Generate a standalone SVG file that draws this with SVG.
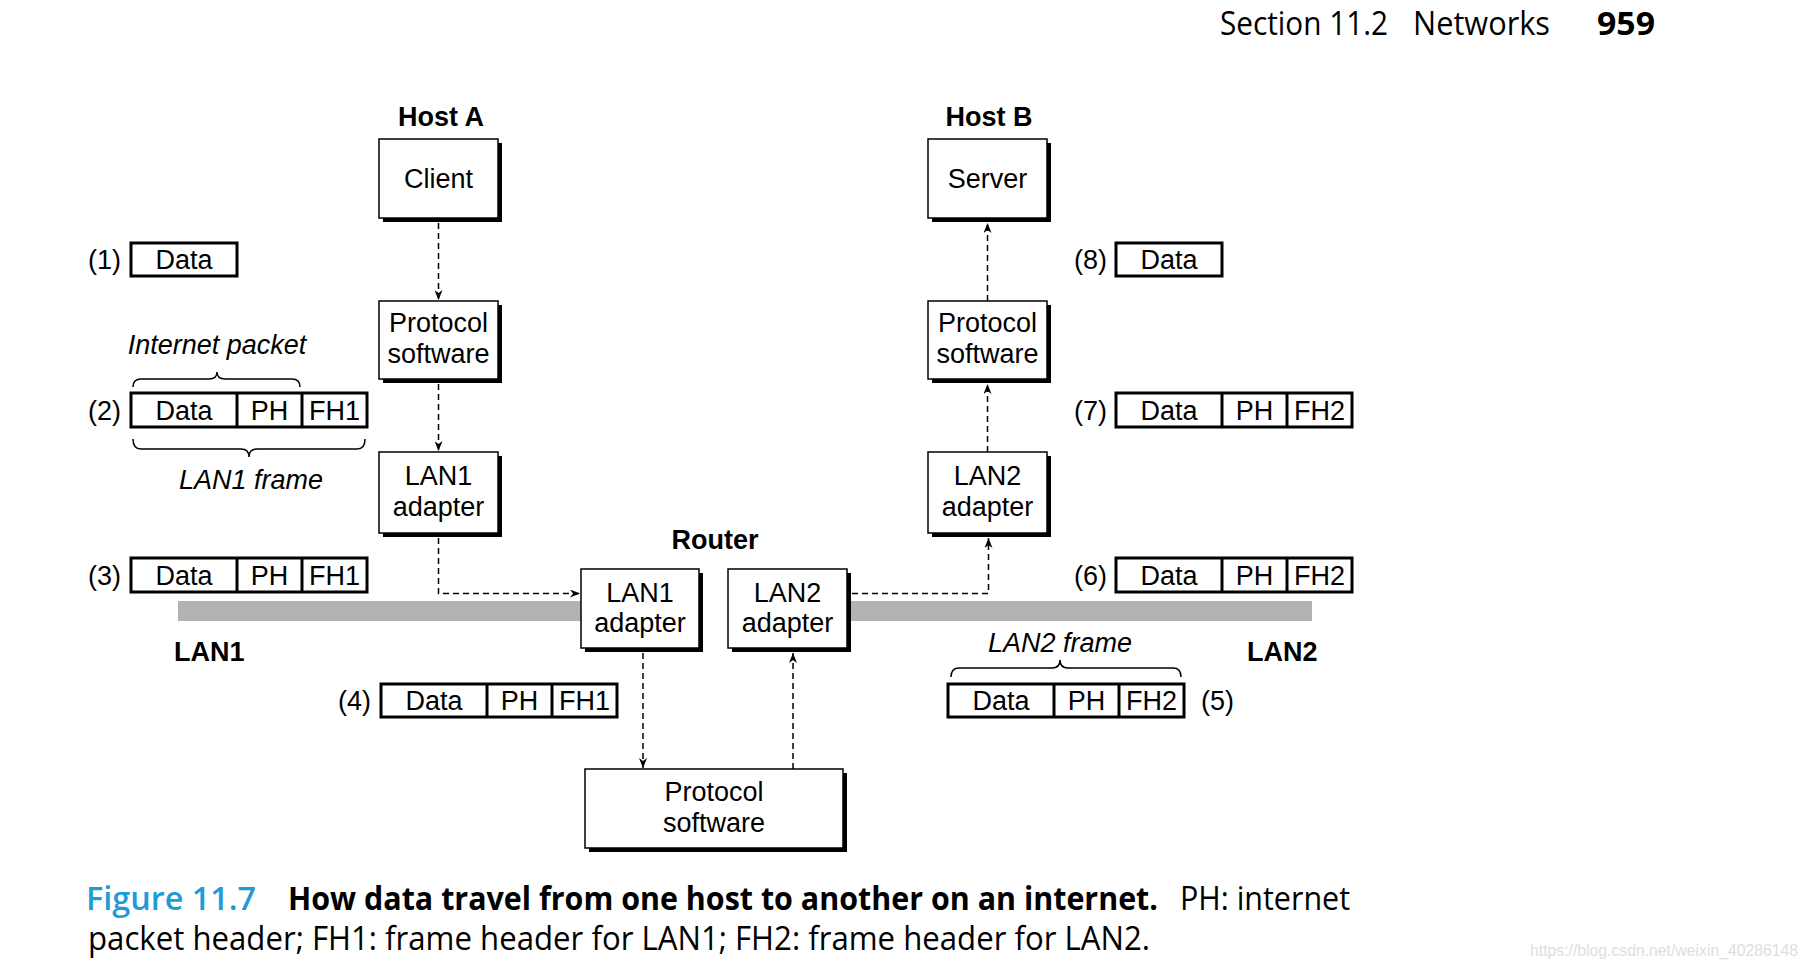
<svg xmlns="http://www.w3.org/2000/svg" width="1816" height="970" viewBox="0 0 1816 970">
<defs>
<style>
.box{fill:#fff;stroke:#000;stroke-width:1.5}
.sh{fill:#000}
.pkt{fill:#fff;stroke:#000;stroke-width:3}
.div{stroke:#000;stroke-width:3}
.t{font-family:"Liberation Sans",Arial,Helvetica,sans-serif;font-size:27px;fill:#000}
.c{text-anchor:middle}
.b{font-weight:bold}
.i{font-style:italic}
.dash{fill:none;stroke:#000;stroke-width:1.5;stroke-dasharray:6 4}
.brace{fill:none;stroke:#000;stroke-width:1.5}
.bar{fill:#b3b3b3}
.hdr{font-family:"Open Sans","Noto Sans",sans-serif;font-size:32px;fill:#000}
.cap{font-family:"Open Sans","Noto Sans",sans-serif;font-size:32px;fill:#000}
</style>
<marker id="arr" viewBox="0 0 10 8" refX="10" refY="4" markerWidth="10" markerHeight="8" markerUnits="userSpaceOnUse" orient="auto">
<path d="M0,0 L10,4 L0,8 L3,4 z" fill="#000"/>
</marker>
</defs>
<rect width="1816" height="970" fill="#fff"/>

<!-- header -->
<g id="header">
<text class="hdr" x="1220" y="35" textLength="168" lengthAdjust="spacingAndGlyphs">Section 11.2</text>
<text class="hdr" x="1413" y="35" textLength="137" lengthAdjust="spacingAndGlyphs">Networks</text>
<text class="hdr" x="1597" y="35" font-weight="bold" textLength="58" lengthAdjust="spacingAndGlyphs">959</text>
</g>

<!-- LAN bars -->
<g id="lan-bars">
<rect class="bar" x="178" y="601" width="403" height="20"/>
<rect class="bar" x="850" y="601" width="462" height="20"/>
</g>

<!-- labels -->
<g id="labels">
<text class="t b c" x="441" y="126">Host A</text>
<text class="t b c" x="989" y="126">Host B</text>
<text class="t b c" x="715" y="549">Router</text>
<text class="t b" x="174" y="661">LAN1</text>
<text class="t b" x="1247" y="661">LAN2</text>
<text class="t i c" x="217" y="354">Internet packet</text>
<text class="t i c" x="251" y="489">LAN1 frame</text>
<text class="t i c" x="1060" y="652">LAN2 frame</text>
<path class="brace" d="M133,387 Q133,379 141,379 L209,379 Q217,379 217,372 Q217,379 225,379 L292,379 Q300,379 300,387"/>
<path class="brace" d="M133,439 Q133,449 141,449 L241,449 Q249,449 249,457 Q249,449 257,449 L357,449 Q365,449 365,439"/>
<path class="brace" d="M951,677 Q951,668 959,668 L1052,668 Q1060,668 1060,660 Q1060,668 1068,668 L1173,668 Q1181,668 1181,677"/>
</g>

<!-- Host A nodes -->
<g id="client">
<rect class="sh" x="383" y="143" width="119" height="79"/>
<rect class="box" x="379" y="139" width="119" height="79"/>
<text class="t c" x="438.5" y="188">Client</text>
</g>
<g id="protoA">
<rect class="sh" x="383" y="305" width="119" height="78"/>
<rect class="box" x="379" y="301" width="119" height="78"/>
<text class="t c" x="438.5" y="332">Protocol</text>
<text class="t c" x="438.5" y="363">software</text>
</g>
<g id="lan1adA">
<rect class="sh" x="383" y="456" width="119" height="81"/>
<rect class="box" x="379" y="452" width="119" height="81"/>
<text class="t c" x="438.5" y="485">LAN1</text>
<text class="t c" x="438.5" y="516">adapter</text>
</g>

<!-- Host B nodes -->
<g id="server">
<rect class="sh" x="932" y="143" width="119" height="79"/>
<rect class="box" x="928" y="139" width="119" height="79"/>
<text class="t c" x="987.5" y="188">Server</text>
</g>
<g id="protoB">
<rect class="sh" x="932" y="305" width="119" height="78"/>
<rect class="box" x="928" y="301" width="119" height="78"/>
<text class="t c" x="987.5" y="332">Protocol</text>
<text class="t c" x="987.5" y="363">software</text>
</g>
<g id="lan2adB">
<rect class="sh" x="932" y="456" width="119" height="81"/>
<rect class="box" x="928" y="452" width="119" height="81"/>
<text class="t c" x="987.5" y="485">LAN2</text>
<text class="t c" x="987.5" y="516">adapter</text>
</g>

<!-- Router nodes -->
<g id="r-lan1">
<rect class="sh" x="585" y="573" width="118" height="79"/>
<rect class="box" x="581" y="569" width="118" height="79"/>
<text class="t c" x="640" y="602">LAN1</text>
<text class="t c" x="640" y="632">adapter</text>
</g>
<g id="r-lan2">
<rect class="sh" x="732" y="573" width="119" height="79"/>
<rect class="box" x="728" y="569" width="119" height="79"/>
<text class="t c" x="787.5" y="602">LAN2</text>
<text class="t c" x="787.5" y="632">adapter</text>
</g>
<g id="r-proto">
<rect class="sh" x="589" y="773" width="258" height="79"/>
<rect class="box" x="585" y="769" width="258" height="79"/>
<text class="t c" x="714" y="801">Protocol</text>
<text class="t c" x="714" y="832">software</text>
</g>

<!-- packets -->
<g id="pkt1">
<text class="t" x="88" y="269">(1)</text>
<rect class="pkt" x="131" y="243" width="106" height="33"/>
<text class="t c" x="184" y="269">Data</text>
</g>
<g id="pkt2">
<text class="t" x="88" y="420">(2)</text>
<rect class="pkt" x="131" y="393" width="236" height="34"/>
<line class="div" x1="237" y1="393" x2="237" y2="427"/>
<line class="div" x1="302" y1="393" x2="302" y2="427"/>
<text class="t c" x="184" y="420">Data</text>
<text class="t c" x="269.5" y="420">PH</text>
<text class="t c" x="334.5" y="420">FH1</text>
</g>
<g id="pkt3">
<text class="t" x="88" y="585">(3)</text>
<rect class="pkt" x="131" y="558" width="236" height="34"/>
<line class="div" x1="237" y1="558" x2="237" y2="592"/>
<line class="div" x1="302" y1="558" x2="302" y2="592"/>
<text class="t c" x="184" y="585">Data</text>
<text class="t c" x="269.5" y="585">PH</text>
<text class="t c" x="334.5" y="585">FH1</text>
</g>
<g id="pkt4">
<text class="t" x="338" y="710">(4)</text>
<rect class="pkt" x="381" y="684" width="236" height="33"/>
<line class="div" x1="487" y1="684" x2="487" y2="717"/>
<line class="div" x1="552" y1="684" x2="552" y2="717"/>
<text class="t c" x="434" y="710">Data</text>
<text class="t c" x="519.5" y="710">PH</text>
<text class="t c" x="584.5" y="710">FH1</text>
</g>
<g id="pkt5">
<rect class="pkt" x="948" y="684" width="236" height="33"/>
<line class="div" x1="1054" y1="684" x2="1054" y2="717"/>
<line class="div" x1="1119" y1="684" x2="1119" y2="717"/>
<text class="t c" x="1001" y="710">Data</text>
<text class="t c" x="1086.5" y="710">PH</text>
<text class="t c" x="1151.5" y="710">FH2</text>
<text class="t" x="1201" y="710">(5)</text>
</g>
<g id="pkt6">
<text class="t" x="1074" y="585">(6)</text>
<rect class="pkt" x="1116" y="558" width="236" height="34"/>
<line class="div" x1="1222" y1="558" x2="1222" y2="592"/>
<line class="div" x1="1287" y1="558" x2="1287" y2="592"/>
<text class="t c" x="1169" y="585">Data</text>
<text class="t c" x="1254.5" y="585">PH</text>
<text class="t c" x="1319.5" y="585">FH2</text>
</g>
<g id="pkt7">
<text class="t" x="1074" y="420">(7)</text>
<rect class="pkt" x="1116" y="393" width="236" height="34"/>
<line class="div" x1="1222" y1="393" x2="1222" y2="427"/>
<line class="div" x1="1287" y1="393" x2="1287" y2="427"/>
<text class="t c" x="1169" y="420">Data</text>
<text class="t c" x="1254.5" y="420">PH</text>
<text class="t c" x="1319.5" y="420">FH2</text>
</g>
<g id="pkt8">
<text class="t" x="1074" y="269">(8)</text>
<rect class="pkt" x="1116" y="243" width="106" height="33"/>
<text class="t c" x="1169" y="269">Data</text>
</g>

<!-- connectors -->
<g id="connectors">
<path class="dash" d="M438.5,223 V300" marker-end="url(#arr)"/>
<path class="dash" d="M438.5,384 V451" marker-end="url(#arr)"/>
<path class="dash" d="M438.5,538 V593.5 H580" marker-end="url(#arr)"/>
<path class="dash" d="M643,653 V768" marker-end="url(#arr)"/>
<path class="dash" d="M793,769 V653" marker-end="url(#arr)"/>
<path class="dash" d="M852,593.5 H988.5 V538" marker-end="url(#arr)"/>
<path class="dash" d="M987.5,452 V384" marker-end="url(#arr)"/>
<path class="dash" d="M987.5,301 V223" marker-end="url(#arr)"/>
</g>

<!-- caption -->
<g id="caption">
<text class="cap" y="910"><tspan x="86" style="fill:#1f9bd7" font-weight="600" textLength="170" lengthAdjust="spacingAndGlyphs">Figure 11.7</tspan><tspan x="288" font-weight="bold" textLength="870" lengthAdjust="spacingAndGlyphs">How data travel from one host to another on an internet.</tspan><tspan x="1180" textLength="170" lengthAdjust="spacingAndGlyphs">PH: internet</tspan></text>
<text class="cap" x="88" y="950" textLength="1062" lengthAdjust="spacingAndGlyphs">packet header; FH1: frame header for LAN1; FH2: frame header for LAN2.</text>
</g>

<text x="1530" y="956" font-family="Liberation Sans,Arial,sans-serif" font-size="17" fill="#dedede" textLength="268" lengthAdjust="spacingAndGlyphs">https://blog.csdn.net/weixin_40286148</text>
</svg>
